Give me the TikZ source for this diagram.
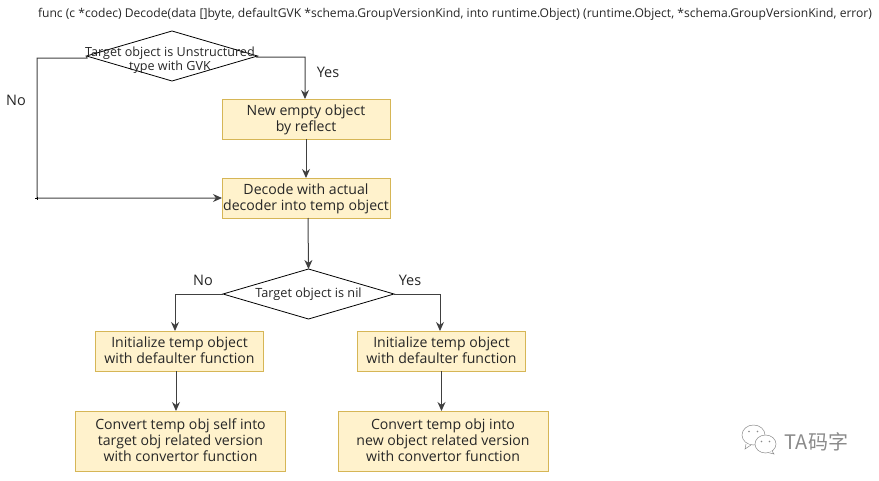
\documentclass[tikz,border=0pt]{standalone}
\usepackage{fontspec}
\setmainfont{Open Sans}
\newfontfamily\cjkwm{Noto Sans CJK SC}
\usetikzlibrary{shapes.geometric,arrows.meta,calc}
\definecolor{boxfill}{HTML}{FFF2CC}
\definecolor{boxline}{HTML}{D6B656}
\definecolor{wmgrey}{HTML}{8A8A8A}
\newcommand{\boxtext}[1]{\raisebox{-5pt}[0pt][0pt]{\begin{tabular}{@{}c@{}}#1\end{tabular}}}
\tikzset{
  x=1pt,y=-1pt,
  procbox/.style={rectangle,draw=boxline,fill=boxfill,line width=0.8pt,inner sep=0pt,outer sep=0pt,
    font=\fontsize{14.1}{16}\selectfont,text=black!85},
  choice/.style={diamond,draw=black,line width=0.8pt,inner sep=0pt,outer sep=0pt,aspect=3.4,
    minimum width=171pt,minimum height=50pt,align=center,font=\fontsize{12.7}{15}\selectfont,text=black!85},
  flow/.style={draw=black!75,line width=1pt,-{Stealth[length=9pt,width=8pt]}},
  lbl/.style={inner sep=0pt,font=\fontsize{14.5}{16}\selectfont,text=black!85},
  bubble/.style={draw=wmgrey,line width=0.5pt,fill=white},
}
\begin{document}
\begin{tikzpicture}
\useasboundingbox (0,0) rectangle (879,480);
\node[inner sep=0pt,anchor=center,font=\fontsize{12.1}{14}\selectfont,text=black!85] (title) at (455,14.5)
  {func (c *codec) Decode(data []byte, defaultGVK *schema.GroupVersionKind, into runtime.Object) (runtime.Object, *schema.GroupVersionKind, error)};

\node[choice] (d1) at (172,56) {};
\node[font=\fontsize{12.6}{14}\selectfont,align=center,text=black!85,inner sep=0pt] (d1text) at (170,60.5) {Target object is Unstructured\\type with GVK};
\node[procbox,minimum width=168pt,minimum height=40pt] (newobj) at (306,119) {\boxtext{New empty object\\by reflect}};
\node[procbox,minimum width=168pt,minimum height=40pt] (decode) at (306,198) {\boxtext{Decode with actual\\decoder into temp object}};
\node[choice] (d2) at (308.5,294) {Target object is nil};
\node[procbox,minimum width=168pt,minimum height=40pt] (initl) at (179.5,351) {\boxtext{Initialize temp object\\with defaulter function}};
\node[procbox,minimum width=168pt,minimum height=40pt] (initr) at (441.5,351) {\boxtext{Initialize temp object\\with defaulter function}};
\node[procbox,minimum width=210pt,minimum height=60pt] (convl) at (180.5,441) {\boxtext{Convert temp obj self into\\target obj related version\\with convertor function}};
\node[procbox,minimum width=210pt,minimum height=60pt] (convr) at (443,441) {\boxtext{Convert temp obj into\\new object related version\\with convertor function}};

\node[lbl] (yes1) at (328,72) {Yes};
\node[lbl] (no1) at (16,100) {No};
\node[lbl] (no2) at (203,280) {No};
\node[lbl] (yes2) at (410,280) {Yes};

\coordinate (c1) at (305,57);
\coordinate (c2) at (37,58);
\coordinate (c3) at (37,198);
\draw[flow] (d1.east) -- (257,57) -- (c1) -- (c1 |- newobj.north);
\draw[flow] (newobj.south) -- (decode.north);
\draw[flow] (d1.west) -- (87,58) -- (c2) -- (c3) -- (decode.west);
\draw[black,line width=0.6pt] (35,198) -- (37,198) (37,196.5) -- (37,200);
\draw[flow] ($(decode.south)+(2,0)$) -- (d2.north);
\draw[flow] (d2.west) -- (175,294) -- (175,331);
\draw[flow] (d2.east) -- (440,294) -- (440,331);
\draw[flow] (initl.south -| 176,0) -- (convl.north -| 176,0);
\draw[flow] (initr.south) -- (convr.north -| initr.south);

% watermark
\draw[bubble] (753.5,435) ellipse (11.5 and 10);
\draw[bubble] (746,444) -- (745,449) -- (751,445);
\draw[bubble] (765.5,444) ellipse (10.5 and 9);
\draw[bubble] (772,451) -- (774,454) -- (768,452.5);
\fill[wmgrey] (749,431.5) circle (0.9) (757.5,431.5) circle (0.9) (761.5,441.5) circle (0.9) (769.5,441.5) circle (0.9);
\node[inner sep=0pt,font=\cjkwm\fontsize{20}{22}\selectfont,text=wmgrey] (wm) at (816.5,442) {TA码字};
\end{tikzpicture}
\end{document}
